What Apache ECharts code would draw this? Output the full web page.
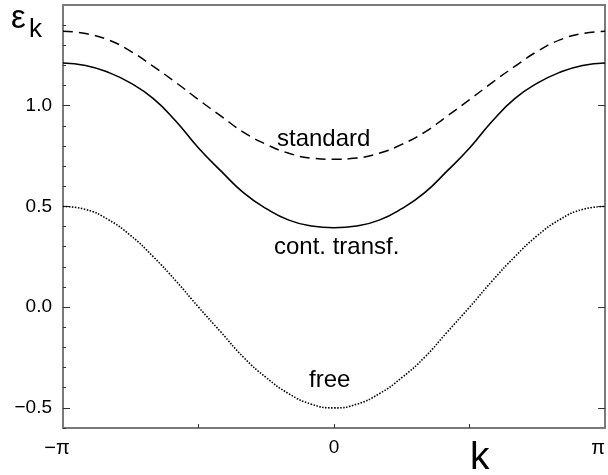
<!DOCTYPE html>
<html>
<head>
<meta charset="utf-8">
<script src="https://cdn.jsdelivr.net/npm/echarts@6/dist/echarts.min.js"></script>
<style>
  html, body { margin: 0; padding: 0; background: #fff; }
  #chart { width: 608px; height: 475px; }
</style>
</head>
<body>
<div id="chart"></div>
<script>
// k in units of pi, read at steps of pi/12
const kPi = [-1, -11/12, -10/12, -9/12, -8/12, -7/12, -6/12, -5/12, -4/12, -3/12, -2/12, -1/12, 0,
             1/12, 2/12, 3/12, 4/12, 5/12, 6/12, 7/12, 8/12, 9/12, 10/12, 11/12, 1];

const standard = [1.370, 1.358, 1.327, 1.270, 1.195, 1.115, 1.030, 0.948, 0.868, 0.808, 0.764, 0.740, 0.734,
                  0.740, 0.764, 0.808, 0.868, 0.948, 1.030, 1.115, 1.195, 1.270, 1.327, 1.358, 1.370];
const contTransf = [1.212, 1.200, 1.166, 1.112, 1.035, 0.923, 0.790, 0.675, 0.567, 0.489, 0.432, 0.403, 0.394,
                    0.403, 0.432, 0.489, 0.567, 0.675, 0.790, 0.923, 1.035, 1.112, 1.166, 1.200, 1.212];
const free = [0.500, 0.485, 0.435, 0.355, 0.250, 0.130, 0.000, -0.125, -0.250, -0.350, -0.430, -0.482, -0.500,
              -0.482, -0.430, -0.350, -0.250, -0.125, 0.000, 0.130, 0.250, 0.355, 0.435, 0.485, 0.500];

const yMajor = [-0.5, 0, 0.5, 1.0];
const yMinor = [-0.6, -0.4, -0.3, -0.2, -0.1, 0.1, 0.2, 0.3, 0.4, 0.6, 0.7, 0.8, 0.9, 1.1, 1.2, 1.3, 1.4];
const xTicks = [-0.5, 0, 0.5];

const FONT = "'Liberation Sans', Arial, sans-serif";
const AXIS_COLOR = '#7a7a7a';

function pair(ys) {
    return kPi.map((k, i) => [k, ys[i]]);
}

function kLabel(v) {
    if (Math.abs(v + 1) < 1e-6) return '{l|−π}';
    if (Math.abs(v) < 1e-6) return '{z|0}';
    if (Math.abs(v - 1) < 1e-6) return '{r|π}';
    return '';
}

const chart = echarts.init(document.getElementById('chart'), null, { renderer: 'canvas' });

const options = {
    animation: false,
    backgroundColor: '#fff',
    grid: { left: 63, top: 5, width: 546, height: 423, containLabel: false },
    xAxis: [
        {
            type: 'value', min: -1, max: 1, interval: 0.5, position: 'bottom',
            axisLine: { show: true, onZero: false, lineStyle: { color: AXIS_COLOR, width: 2 } },
            axisTick: { show: true, inside: true, length: 4, customValues: xTicks, lineStyle: { color: '#333', width: 1 } },
            axisLabel: {
                show: true, margin: 10, formatter: kLabel, color: '#000',
                rich: {
                    l: { fontSize: 20, fontFamily: FONT, color: '#000', padding: [0, 12, 0, 0] },
                    z: { fontSize: 19, fontFamily: FONT, color: '#000' },
                    r: { fontSize: 20, fontFamily: FONT, color: '#000', padding: [0, 14, 0, 0] }
                }
            },
            splitLine: { show: false }
        },
        {
            type: 'value', min: -1, max: 1, interval: 0.5, position: 'top',
            axisLine: { show: true, onZero: false, lineStyle: { color: AXIS_COLOR, width: 2 } },
            axisTick: { show: false },
            axisLabel: { show: false },
            splitLine: { show: false }
        }
    ],
    yAxis: [
        {
            type: 'value', min: -0.6, max: 1.5, position: 'left',
            axisLine: { show: true, onZero: false, lineStyle: { color: AXIS_COLOR, width: 2 } },
            axisTick: { show: true, inside: true, length: 7, customValues: yMajor, lineStyle: { color: '#333', width: 1 } },
            axisLabel: {
                show: true, margin: 11, customValues: yMajor, color: '#000',
                fontSize: 19, fontFamily: FONT,
                formatter: v => v.toFixed(1).replace('-', '−')
            },
            splitLine: { show: false }
        },
        {
            type: 'value', min: -0.6, max: 1.5, position: 'left',
            axisLine: { show: false, onZero: false },
            axisTick: { show: true, inside: true, length: 3, customValues: yMinor, lineStyle: { color: '#333', width: 1 } },
            axisLabel: { show: false },
            splitLine: { show: false }
        },
        {
            type: 'value', min: -0.6, max: 1.5, position: 'right',
            axisLine: { show: true, onZero: false, lineStyle: { color: AXIS_COLOR, width: 2 } },
            axisTick: { show: true, inside: true, length: 7, customValues: yMajor, lineStyle: { color: '#333', width: 1 } },
            axisLabel: { show: false },
            splitLine: { show: false }
        }
    ],
    series: [
        {
            name: 'standard', type: 'line', data: pair(standard), smooth: 0.5,
            showSymbol: false, lineStyle: { color: '#000', width: 1.5, type: [10, 6] }
        },
        {
            name: 'cont. transf.', type: 'line', data: pair(contTransf), smooth: 0.5,
            showSymbol: false, lineStyle: { color: '#000', width: 1.6, type: 'solid' }
        },
        {
            name: 'free', type: 'line', data: pair(free), smooth: 0.5,
            showSymbol: false, lineStyle: { color: '#000', width: 1.6, type: [1.5, 1.5] }
        }
    ],
    graphic: [
        { type: 'text', left: 11, top: 2, style: { text: 'ε', fontSize: 33, fontFamily: FONT, fill: '#000' } },
        { type: 'text', left: 29, top: 17, style: { text: 'k', fontSize: 26, fontFamily: FONT, fill: '#000' } },
        { type: 'text', left: 470, top: 439, style: { text: 'k', fontSize: 39, fontFamily: FONT, fill: '#000' } },
        { type: 'text', left: 277, top: 127, style: { text: 'standard', fontSize: 24, fontFamily: FONT, fill: '#000' } },
        { type: 'text', left: 274, top: 235, style: { text: 'cont. transf.', fontSize: 24, fontFamily: FONT, fill: '#000' } },
        { type: 'text', left: 309, top: 368, style: { text: 'free', fontSize: 24, fontFamily: FONT, fill: '#000' } }
    ]
};

chart.setOption(options);
</script>
</body>
</html>
